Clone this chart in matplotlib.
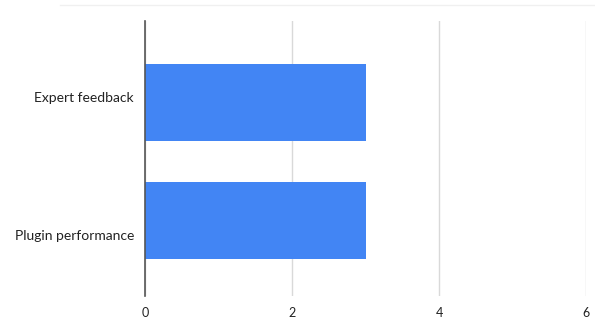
import matplotlib
matplotlib.use('Agg')
import matplotlib.pyplot as plt
import matplotlib.transforms as mtransforms
from matplotlib.lines import Line2D

categories = ['Plugin performance', 'Expert feedback']
values = [3, 3]
xticks = [0, 2, 4, 6]

plt.rcParams['font.family'] = ['Lato', 'DejaVu Sans']

fig = plt.figure(figsize=(5.95, 3.23), dpi=100)
ax = fig.add_axes([145/595, 27/323, 441/595, 275/323])

ax.barh(range(len(categories)), values, height=0.65, color='#4285F4', zorder=3)
ax.set_xlim(0, 6)
ax.set_ylim(-0.64, 1.69)
ax.set_xticks(xticks)
ax.set_xticklabels([str(t) for t in xticks], fontsize=9, color='#222222')
ax.set_yticks(range(len(categories)))
ax.set_yticklabels(categories, fontsize=10, color='#222222')
ax.tick_params(axis='y', length=0, pad=8)
ax.tick_params(axis='x', length=0, pad=8)

# labels in the original sit a little off the bar centres
shifts = [-0.15, 0.05]
for lbl, dy in zip(ax.get_yticklabels(), shifts):
    lbl.set_transform(lbl.get_transform() +
                      mtransforms.ScaledTranslation(0, dy, fig.dpi_scale_trans))

ax.grid(axis='x', color='#d9d9d9', linewidth=1, zorder=0)
for s in ['top', 'right', 'bottom']:
    ax.spines[s].set_visible(False)
ax.spines['left'].set_color('#555555')
ax.spines['left'].set_linewidth(1.2)
ax.spines['left'].set_zorder(4)

# faint frame line across the top
fig.add_artist(Line2D([60/595, 1], [1 - 5/323, 1 - 5/323], color='#f0f0f0', linewidth=1))

fig.savefig('out.png', dpi=100)
